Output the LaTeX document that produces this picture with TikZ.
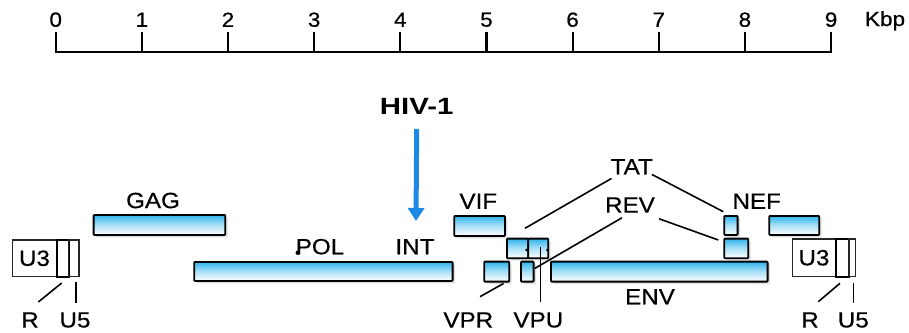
\documentclass[tikz,border=0pt]{standalone}
\usepackage{fontspec}
\setmainfont{Liberation Sans}
\newfontfamily\lab[FakeStretch=1.1,FakeBold=0.5]{Liberation Sans}
\newfontfamily\hivfont[FakeStretch=1.25]{Liberation Sans}
\usetikzlibrary{arrows.meta,shadows}
\definecolor{geneblue}{HTML}{2EB4EC}
\definecolor{arrowblue}{HTML}{1E88E5}
\tikzset{
  gene/.style={draw=black, line width=1.8pt, rounded corners=0.8pt, top color=geneblue, bottom color=white, middle color=geneblue!40, inner sep=0pt, anchor=north west,
    drop shadow={fill=black!35, opacity=0.35, shadow xshift=2.5pt, shadow yshift=-2.5pt}},
  lbl/.style={font=\lab\fontsize{22}{25}\selectfont, inner sep=0pt},
  num/.style={font=\lab\fontsize{20.5}{23}\selectfont, inner sep=0pt},
  ltr/.style={draw=black!85, line width=1.2pt, inner sep=0pt, anchor=north west},
  ltrR/.style={draw=black, line width=2pt, inner sep=0pt, anchor=north west},
  conn/.style={draw=black, line width=1.6pt},
  tick/.style={draw=black, line width=2.2pt}
}
\begin{document}
\begin{tikzpicture}[x=1pt,y=-1pt]
\useasboundingbox (0,0) rectangle (909,332);
\fill[white] (0,0) rectangle (909,332);

% ---- scale ----
\coordinate (s0) at (55.7,51.7);
\coordinate (s9) at (831,51.7);
\draw[tick, line cap=rect] (s0) -- (s9);
\foreach \i in {0,...,9}{
  \coordinate (t\i) at ({55.7+86.15*\i},51.7);
  \coordinate (tt\i) at ({55.7+86.15*\i},32.3);
  \draw[tick] (t\i) -- (tt\i);
  \node[num] (n\i) at ({55.7+86.15*\i},19.7) {\i};
}
\node[num] (kbp) at (885,20.7) {Kbp};

% ---- HIV-1 arrow ----
\node[font=\hivfont\bfseries\fontsize{23.5}{26}\selectfont, inner sep=0pt] (hiv) at (416.7,106.7) {HIV-1};
\coordinate (arrtip) at (416,221);
\draw[arrowblue, line width=5pt, -{Triangle[width=16pt,length=13pt]}] ([yshift=-14pt]hiv.south) -- (arrtip);

% ---- left LTR ----
\node[ltr, minimum width=44.3pt, minimum height=36.7pt, font=\lab\fontsize{22}{25}\selectfont] (lu3) at (11.7,239.3) {U3};
\node[ltrR, minimum width=12pt, minimum height=36.7pt] (lr) at (56,239.3) {};
\node[ltr, minimum width=10.3pt, minimum height=36.7pt] (lu5) at (68,239.3) {};
\node[lbl] (lRl) at (30,320) {R};
\node[lbl] (lU5l) at (75,320) {U5};
\coordinate (lra) at (61.7,283);
\coordinate (lrb) at (38.3,302);
\coordinate (lua) at (76,282);
\coordinate (lub) at (76,303);
\draw[conn] (lra) -- (lrb);
\draw[conn] (lua) -- (lub);

% ---- right LTR ----
\node[ltr, minimum width=43.3pt, minimum height=37.7pt, font=\lab\fontsize{22}{25}\selectfont] (ru3) at (791.7,238.3) {U3};
\node[ltrR, minimum width=13.3pt, minimum height=37.7pt] (rr) at (835,238.3) {};
\node[ltr, minimum width=6.7pt, minimum height=37.7pt] (ru5) at (848.3,238.3) {};
\node[lbl] (rRl) at (810,320) {R};
\node[lbl] (rU5l) at (853.3,320) {U5};
\coordinate (rra) at (840,283.3);
\coordinate (rrb) at (818.3,301.7);
\coordinate (rua) at (853.3,283);
\coordinate (rub) at (853.3,303);
\draw[conn] (rra) -- (rrb);
\draw[conn] (rua) -- (rub);

% ---- genes ----
\node[gene, minimum width=131.6pt, minimum height=20pt] (gag) at (92.7,214) {};
\node[gene, minimum width=258.4pt, minimum height=19pt] (pol) at (193.3,261) {};
\node[gene, minimum width=50.7pt, minimum height=20pt] (vif) at (453.3,215) {};
\node[gene, minimum width=21.3pt, minimum height=19.6pt] (tat1) at (506,237.7) {};
\node[gene, minimum width=20pt, minimum height=19.6pt] (rev1) at (527.3,237.7) {};
\node[gene, minimum width=25pt, minimum height=20pt] (vpr) at (483.3,260.7) {};
\node[gene, minimum width=12.7pt, minimum height=20pt] (vpu) at (520,260.7) {};
\node[gene, minimum width=216.7pt, minimum height=20pt] (env) at (550,260.7) {};
\node[gene, minimum width=13.4pt, minimum height=19pt] (tat2) at (723.3,215) {};
\node[gene, minimum width=24pt, minimum height=19.6pt] (rev2) at (723.3,237.7) {};
\node[gene, minimum width=50pt, minimum height=19pt] (nef) at (768.3,215) {};

% ---- labels ----
\node[lbl] (gagl) at (153,200.5) {GAG};
\node[lbl] (poll) at (320,246.7) {POL};
\node[lbl] (intl) at (415,246.7) {INT};
\node[lbl] (vifl) at (478.3,201.2) {VIF};
\node[lbl] (tatl) at (631.7,166.7) {TAT};
\node[lbl] (revl) at (630,205) {REV};
\node[lbl] (nefl) at (756.7,201.2) {NEF};
\node[lbl] (envl) at (650,296.7) {ENV};
\node[lbl] (vprl) at (468.3,320) {VPR};
\node[lbl] (vpul) at (538.3,320) {VPU};

\coordinate (pdot) at (297.7,252.7);
\fill (pdot) circle (2.2pt);
\coordinate (d1) at (526.5,250);
\coordinate (d2) at (547.3,250);
\fill (d1) circle (1.4pt);
\fill (d2) circle (1.4pt);

% ---- connectors ----
\coordinate (tatA) at (525,228.3);
\coordinate (tatB) at (723.3,211.7);
\coordinate (revA) at (535,268.3);
\coordinate (revB) at (718.3,240);
\coordinate (vprA) at (480,296.7);
\coordinate (vpuA) at (540,247);
\coordinate (vpuB) at (540,302);
\draw[conn] ([shift={(1,4)}]tatl.south west) -- (tatA);
\draw[conn] ([shift={(-1,0)}]tatl.south east) -- (tatB);
\draw[conn] ([shift={(-8,5)}]revl.south) -- (revA);
\draw[conn] ([shift={(4,6)}]revl.south east) -- (revB);
\draw[conn] ([xshift=-6.6pt, yshift=-1pt]vpr.south east) -- (vprA);
\draw[black, line width=1pt] (vpuA) -- (vpuB);
\end{tikzpicture}
\end{document}
